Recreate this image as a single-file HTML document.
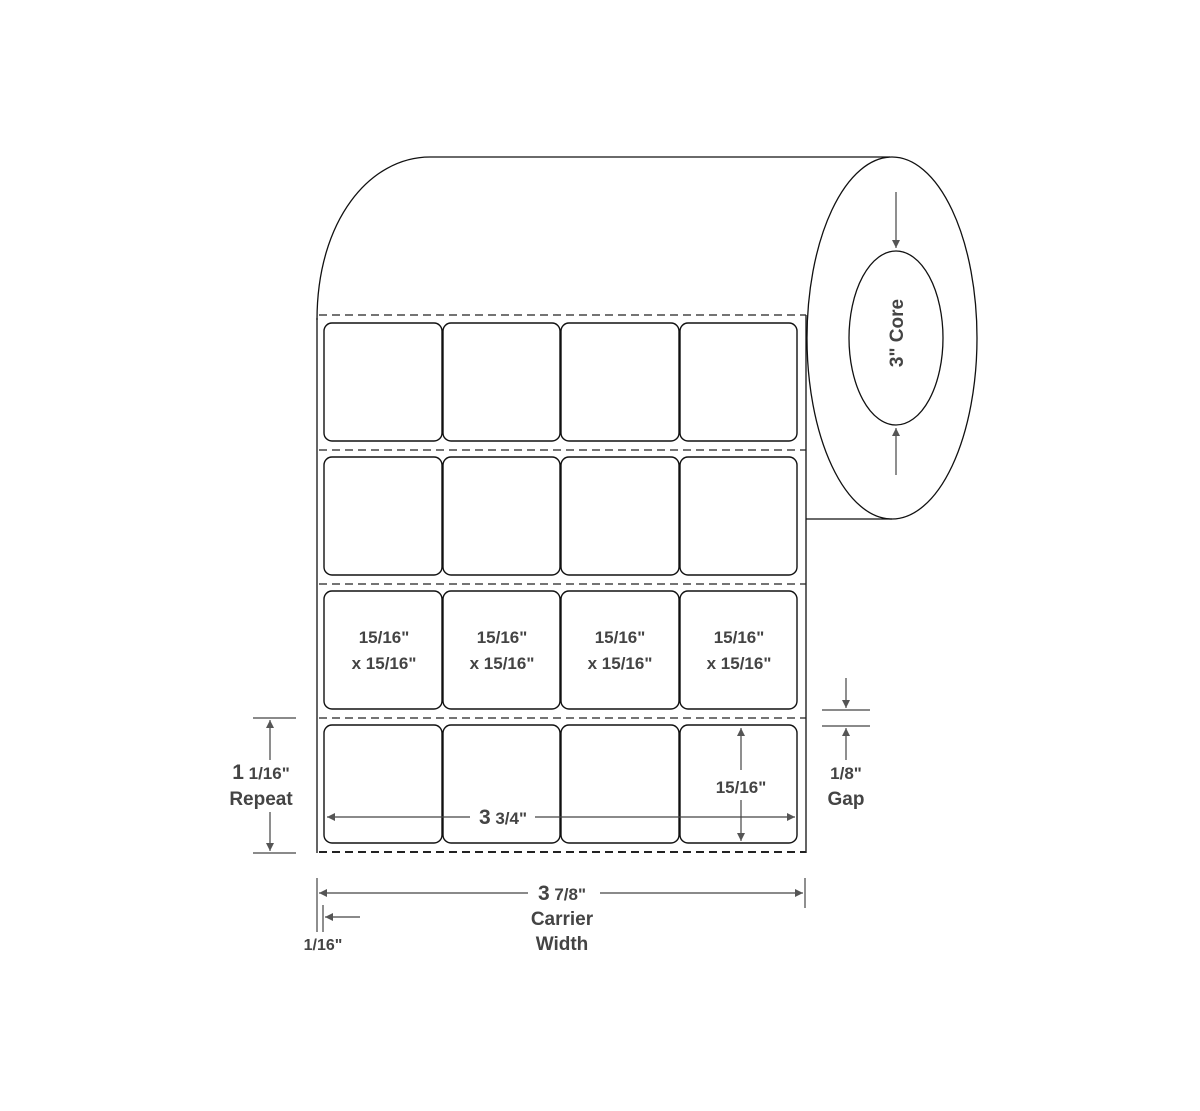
<!DOCTYPE html>
<html><head><style>html,body{margin:0;padding:0;background:#fff}svg{display:block}</style></head>
<body>
<svg width="1200" height="1111" viewBox="0 0 1200 1111" xmlns="http://www.w3.org/2000/svg" font-family="Liberation Sans, sans-serif">
<defs>
<marker id="a" viewBox="0 0 10 10" refX="10" refY="5" markerWidth="16" markerHeight="8" markerUnits="userSpaceOnUse" orient="auto"><path d="M0,0L10,5L0,10z" fill="#555"/></marker>
</defs>
<g fill="none" stroke="#111" stroke-width="1.3">
<path d="M317,320 C317,220 370,157 430,157 L890,157"/>
<line x1="317" y1="318" x2="317" y2="853"/>
<line x1="806" y1="315" x2="806" y2="853"/>
<ellipse cx="892" cy="338" rx="85" ry="181" fill="#fff"/>
<line x1="806" y1="519" x2="892" y2="519"/>
<ellipse cx="896" cy="338" rx="47" ry="87"/>
</g>
<g stroke="#222" stroke-width="1.2" stroke-dasharray="8,5">
<line x1="319" y1="315" x2="806" y2="315"/>
<line x1="319" y1="450" x2="806" y2="450"/>
<line x1="319" y1="584" x2="806" y2="584"/>
<line x1="319" y1="718" x2="806" y2="718"/>
<line x1="319" y1="852" x2="806" y2="852" stroke-width="2"/>
</g>
<g fill="none" stroke="#111" stroke-width="1.4">
<rect x="324" y="323" width="118" height="118" rx="8"/><rect x="443" y="323" width="117" height="118" rx="8"/><rect x="561" y="323" width="118" height="118" rx="8"/><rect x="680" y="323" width="117" height="118" rx="8"/>
<rect x="324" y="457" width="118" height="118" rx="8"/><rect x="443" y="457" width="117" height="118" rx="8"/><rect x="561" y="457" width="118" height="118" rx="8"/><rect x="680" y="457" width="117" height="118" rx="8"/>
<rect x="324" y="591" width="118" height="118" rx="8"/><rect x="443" y="591" width="117" height="118" rx="8"/><rect x="561" y="591" width="118" height="118" rx="8"/><rect x="680" y="591" width="117" height="118" rx="8"/>
<rect x="324" y="725" width="118" height="118" rx="8"/><rect x="443" y="725" width="117" height="118" rx="8"/><rect x="561" y="725" width="118" height="118" rx="8"/><rect x="680" y="725" width="117" height="118" rx="8"/>
</g>
<g stroke="#444" stroke-width="1.2" fill="none">
<line x1="253" y1="718" x2="296" y2="718"/><line x1="253" y1="853" x2="296" y2="853"/>
<line x1="270" y1="760" x2="270" y2="720" marker-end="url(#a)"/><line x1="270" y1="812" x2="270" y2="851" marker-end="url(#a)"/>
<line x1="822" y1="710" x2="870" y2="710"/><line x1="822" y1="726" x2="870" y2="726"/>
<line x1="846" y1="678" x2="846" y2="708" marker-end="url(#a)"/><line x1="846" y1="760" x2="846" y2="728" marker-end="url(#a)"/>
<line x1="317" y1="878" x2="317" y2="932"/><line x1="805" y1="878" x2="805" y2="908"/><line x1="323" y1="905" x2="323" y2="932"/>
<line x1="528" y1="893" x2="319" y2="893" marker-end="url(#a)"/><line x1="600" y1="893" x2="803" y2="893" marker-end="url(#a)"/>
<line x1="360" y1="917" x2="325" y2="917" marker-end="url(#a)"/>
<line x1="470" y1="817" x2="327" y2="817" marker-end="url(#a)"/><line x1="535" y1="817" x2="795" y2="817" marker-end="url(#a)"/>
<line x1="741" y1="770" x2="741" y2="728" marker-end="url(#a)"/><line x1="741" y1="800" x2="741" y2="841" marker-end="url(#a)"/>
<line x1="896" y1="192" x2="896" y2="248" marker-end="url(#a)"/><line x1="896" y1="475" x2="896" y2="428" marker-end="url(#a)"/>
</g>
<g fill="#444" font-size="17" font-weight="bold" text-anchor="middle">
<text x="384" y="643">15/16"</text><text x="384" y="669">x 15/16"</text>
<text x="502" y="643">15/16"</text><text x="502" y="669">x 15/16"</text>
<text x="620" y="643">15/16"</text><text x="620" y="669">x 15/16"</text>
<text x="739" y="643">15/16"</text><text x="739" y="669">x 15/16"</text>
<text x="741" y="793">15/16"</text>
<text x="503" y="824"><tspan font-size="21">3</tspan> 3/4"</text>
<text x="261" y="779"><tspan font-size="21">1</tspan> 1/16"</text>
<text x="261" y="805" font-size="19">Repeat</text>
<text x="846" y="779">1/8"</text>
<text x="846" y="805" font-size="19">Gap</text>
<text x="562" y="900"><tspan font-size="21">3</tspan> 7/8"</text>
<text x="562" y="925" font-size="19">Carrier</text>
<text x="562" y="950" font-size="19">Width</text>
<text x="323" y="950" font-size="16">1/16"</text>
<text x="0" y="0" font-size="19" transform="translate(903,333) rotate(-90)">3" Core</text>
</g>
</svg>
</body></html>
